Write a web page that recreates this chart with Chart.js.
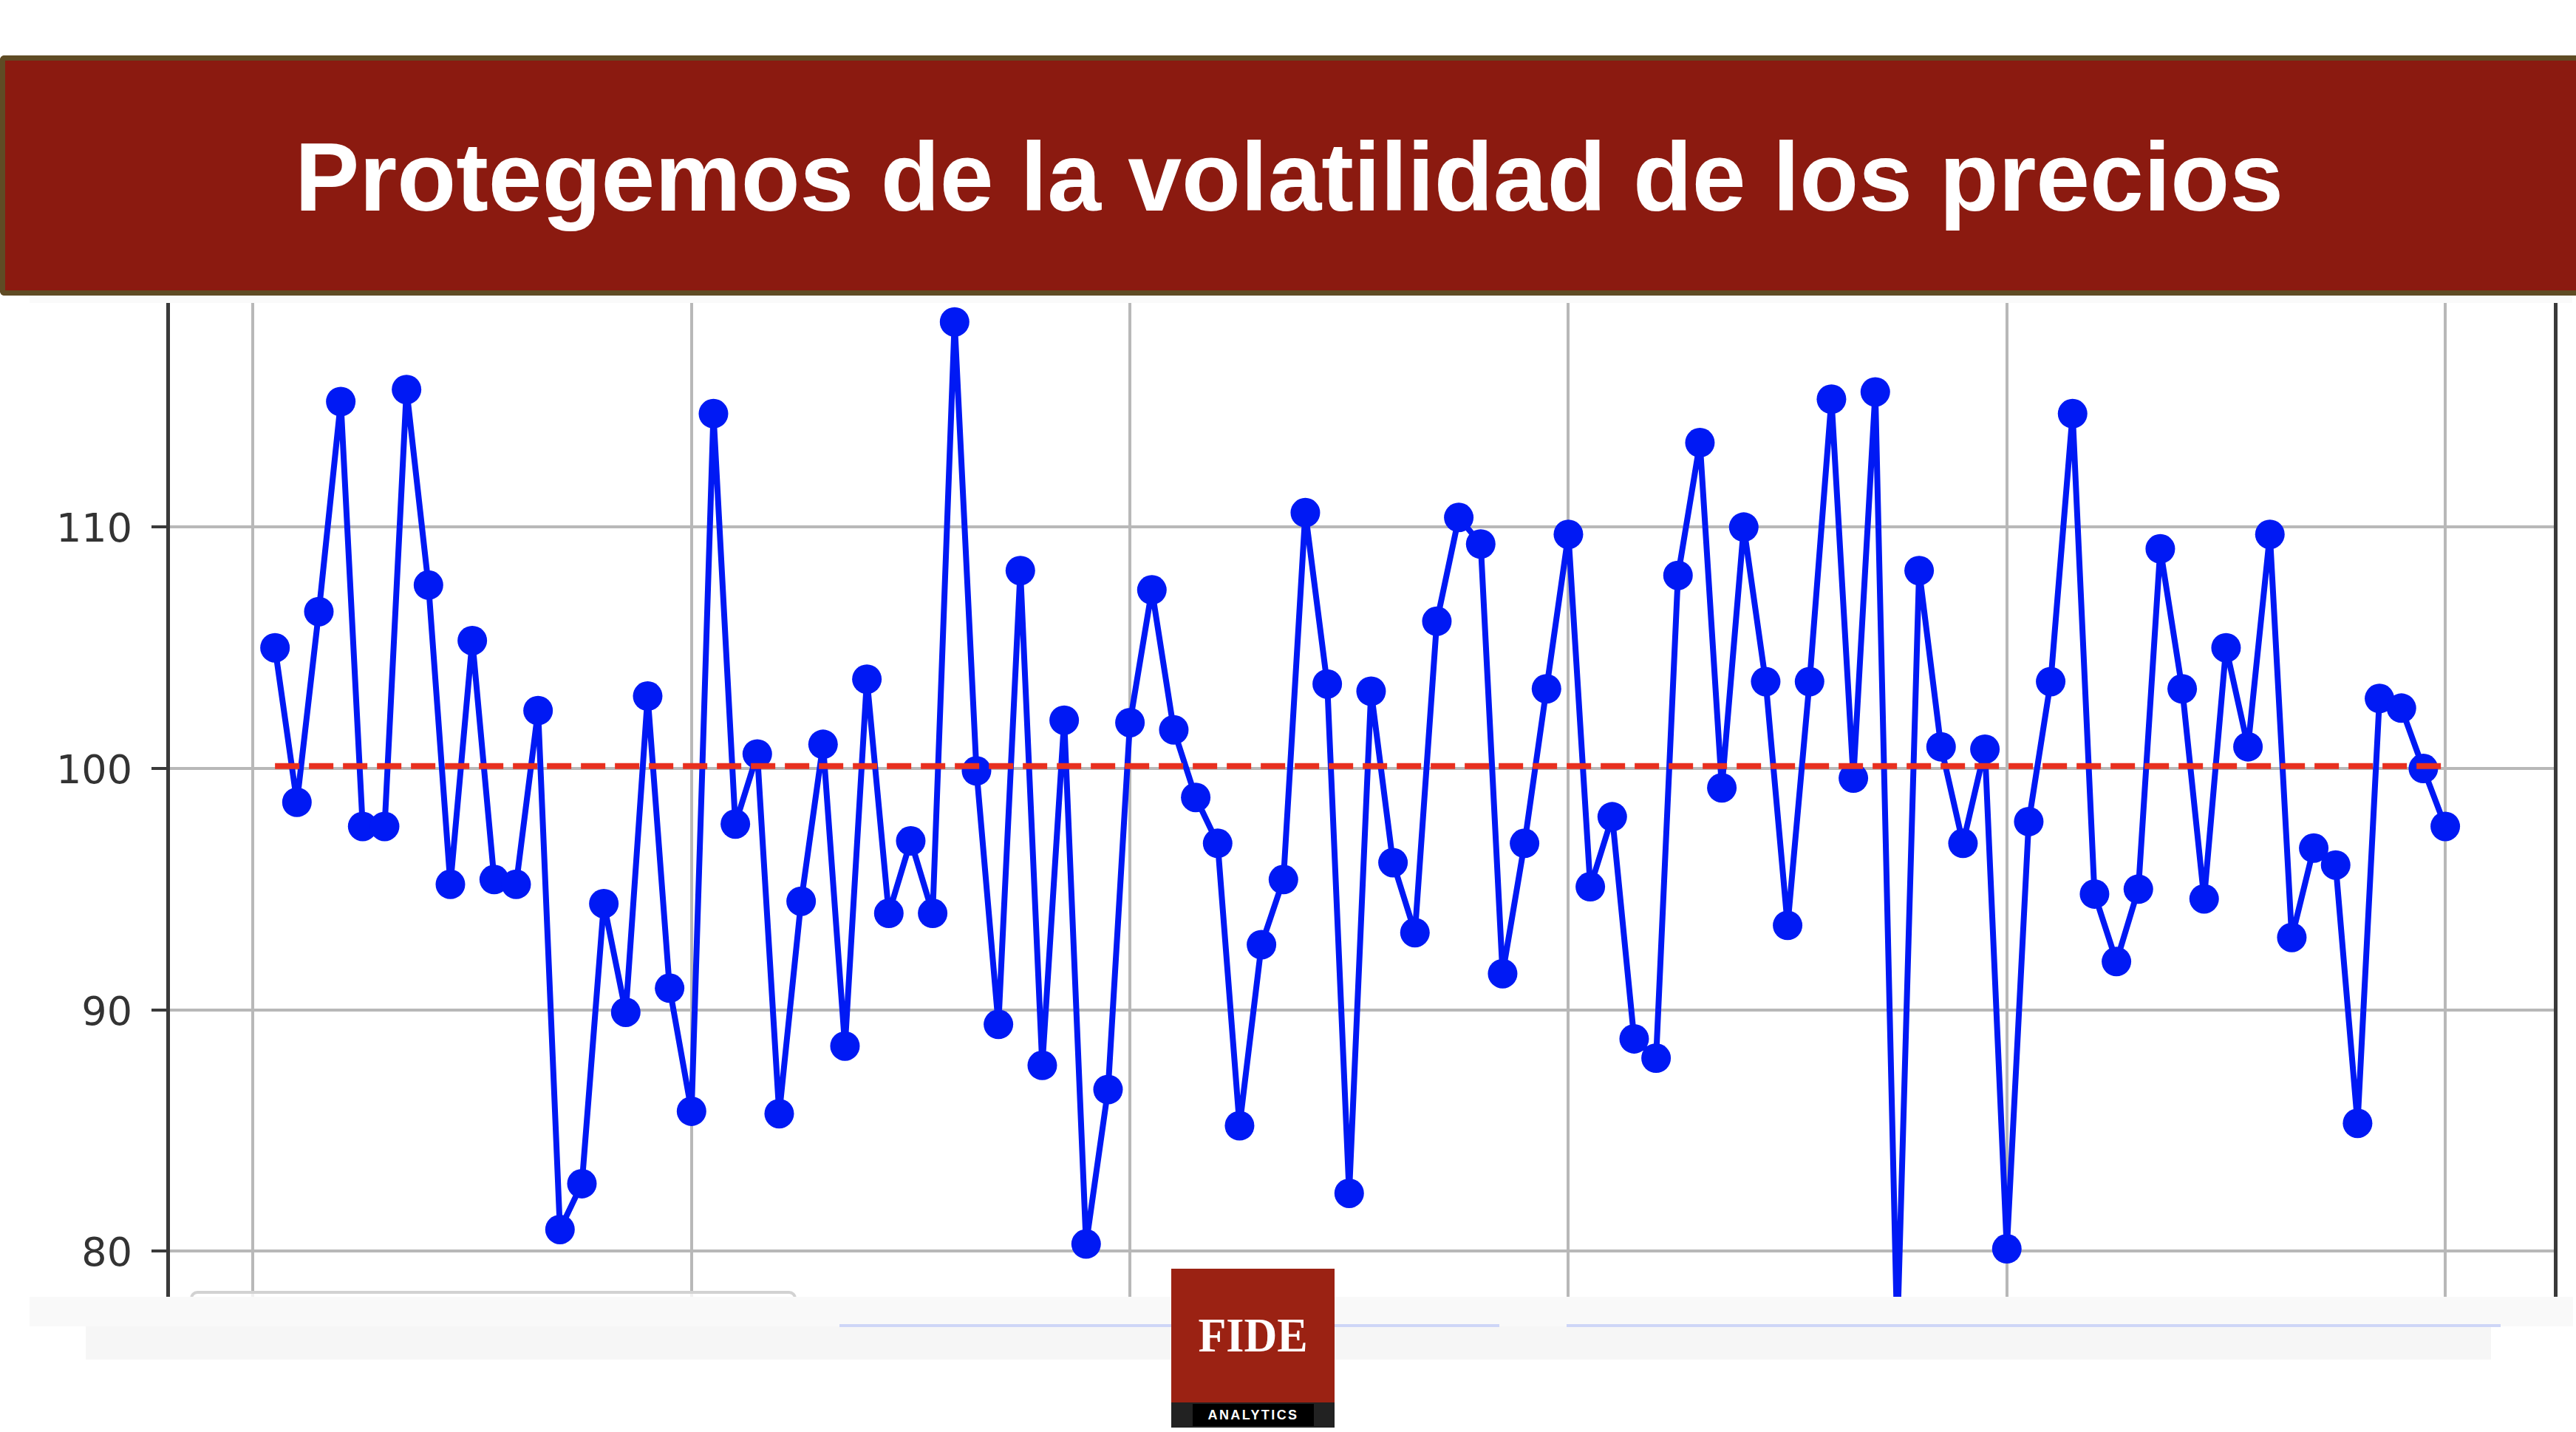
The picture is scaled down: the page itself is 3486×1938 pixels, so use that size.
<!DOCTYPE html>
<html>
<head>
<meta charset="utf-8">
<title>Protegemos de la volatilidad de los precios</title>
<script src="https://cdn.jsdelivr.net/npm/chart.js@4"></script>
<style>
	html, body { margin: 0; padding: 0; background: #fff; }
	#page { position: relative; width: 3486px; height: 1938px; overflow: hidden; background: #fff; }
	#chart { position: absolute; left: 0; top: 0; }
	.box { position: absolute; }
	#banner { left: 0; top: 75px; width: 3486px; height: 325px; box-sizing: border-box; background: #8b1a10; border: 7px solid #5f4b24; border-right: 0; border-radius: 6px 0 0 6px; }
	#title { position: absolute; left: 3px; right: 0; top: 165px; text-align: center; color: #fff; font: bold 130.9px/150px "Liberation Sans", Arial, sans-serif; white-space: nowrap; }
	#fade { left: 40px; top: 400px; width: 3441px; height: 10px; background: #fafafa; }
	#legend { left: 257px; top: 1747px; width: 813px; height: 40px; border: 4px solid #d2d2d2; border-radius: 10px; background: rgba(255,255,255,.8); }
	#band1 { left: 40px; top: 1755px; width: 3442px; height: 40px; background: #f9f9f9; }
	#band2 { left: 116px; top: 1795px; width: 3255px; height: 45px; background: #f6f6f6; }
	#rule1 { left: 1136px; top: 1792px; width: 893px; height: 4px; background: #ced6f7; }
	#rule2 { left: 2120px; top: 1792px; width: 1264px; height: 4px; background: #ced6f7; }
	#logo { left: 1585px; top: 1717px; width: 221px; height: 181px; background: #9b2213; }
	#logoFoot { left: 1585px; top: 1898px; width: 221px; height: 34px; background: #222; }
	#logoInner { left: 1614px; top: 1900px; width: 164px; height: 30px; background: #000; }
	#fide { left: 1585px; top: 1769px; width: 221px; text-align: center; color: #fff; font: bold 66px/76px "Liberation Serif", serif; transform: scaleX(.94); }
	#analytics { left: 1614px; top: 1900px; width: 164px; text-align: center; color: #fff; font: bold 18px/30px "Liberation Sans", sans-serif; letter-spacing: 2.4px; }
</style>
</head>
<body>
<div id="page">
	<canvas id="chart" width="3486" height="1938" style="width:3486px;height:1938px"></canvas>
	<div class="box" id="fade"></div>
	<div class="box" id="banner"></div>
	<div id="title">Protegemos de la volatilidad de los precios</div>
	<div class="box" id="legend"></div>
	<div class="box" id="band1"></div>
	<div class="box" id="band2"></div>
	<div class="box" id="rule1"></div>
	<div class="box" id="rule2"></div>
	<div class="box" id="logo"></div>
	<div class="box" id="logoFoot"></div>
	<div class="box" id="logoInner"></div>
	<div class="box" id="fide">FIDE</div>
	<div class="box" id="analytics">ANALYTICS</div>
</div>
<script>
const colors = {
	blue: '#0019f4',
	red: '#e8301f',
	grid: '#b8b8b8',
	spine: '#3a3a3a',
	text: '#333'
}

const weeks = [
	1, 2, 3, 4, 5, 6, 7, 8, 9, 10,
	11, 12, 13, 14, 15, 16, 17, 18, 19, 20,
	21, 22, 23, 24, 25, 26, 27, 28, 29, 30,
	31, 32, 33, 34, 35, 36, 37, 38, 39, 40,
	41, 42, 43, 44, 45, 46, 47, 48, 49, 50,
	51, 52, 53, 54, 55, 56, 57, 58, 59, 60,
	61, 62, 63, 64, 65, 66, 67, 68, 69, 70,
	71, 72, 73, 74, 75, 76, 77, 78, 79, 80,
	81, 82, 83, 84, 85, 86, 87, 88, 89, 90,
	91, 92, 93, 94, 95, 96, 97, 98, 99, 100
]

const prices = [
	105.0, 98.6, 106.5, 115.2, 97.6, 97.6, 115.7, 107.6, 95.2, 105.3,
	95.4, 95.2, 102.4, 80.9, 82.8, 94.4, 89.9, 103.0, 90.9, 85.8,
	114.7, 97.7, 100.6, 85.7, 94.5, 101.0, 88.5, 103.7, 94.0, 97.0,
	94.0, 118.5, 99.9, 89.4, 108.2, 87.7, 102.0, 80.3, 86.7, 101.9,
	107.4, 101.6, 98.8, 96.9, 85.2, 92.7, 95.4, 110.6, 103.5, 82.4,
	103.2, 96.1, 93.2, 106.1, 110.4, 109.3, 91.5, 96.9, 103.3, 109.7,
	95.1, 98.0, 88.8, 88.0, 108.0, 113.5, 99.2, 110.0, 103.6, 93.5,
	103.6, 115.3, 99.6, 115.6, 76.5, 108.2, 100.9, 96.9, 100.8, 80.1,
	97.8, 103.6, 114.7, 94.8, 92.0, 95.0, 109.1, 103.3, 94.6, 105.0,
	100.9, 109.7, 93.0, 96.7, 96.0, 85.3, 102.9, 102.5, 100.0, 97.6
]

const referenceWeeks = [1, 100]
const referencePrices = [100.1, 100.1]

const chart = new Chart("chart", {
	type: "line",
	data: {
		datasets: [
			{
				data: referenceWeeks.map((w, i) => ({ x: w, y: referencePrices[i] })),
				borderColor: colors.red,
				borderWidth: 8,
				borderDash: [33, 13],
				pointRadius: 0,
				order: 0
			},
			{
				data: weeks.map((w, i) => ({ x: w, y: prices[i] })),
				borderColor: colors.blue,
				backgroundColor: colors.blue,
				borderWidth: 8,
				borderJoinStyle: "round",
				pointRadius: 20,
				pointBorderWidth: 0,
				tension: 0,
				order: 1
			}
		]
	},
	options: {
		responsive: false,
		animation: false,
		devicePixelRatio: 1,
		layout: { padding: { left: 0, right: 28, top: 340, bottom: 146 } },
		plugins: { legend: { display: false }, tooltip: { enabled: false } },
		scales: {
			x: {
				type: "linear",
				min: -3.893,
				max: 105.02,
				afterFit: (scale) => { scale.height = 0 },
				border: { display: false },
				grid: { color: colors.grid, lineWidth: 4, drawTicks: false },
				ticks: { display: false, stepSize: 20, includeBounds: false }
			},
			y: {
				min: 76.98,
				max: 121.43,
				afterFit: (scale) => { scale.width = 227 },
				border: { color: colors.spine, width: 5 },
				grid: { color: colors.grid, lineWidth: 4, tickLength: 22, tickColor: colors.spine, tickWidth: 4 },
				ticks: {
					stepSize: 10,
					includeBounds: false,
					padding: 26,
					color: colors.text,
					font: { family: "DejaVu Sans", size: 54, lineHeight: "12px" },
					// empty first line pushes the label a few px under the tick, like the original
					callback: (value) => ["", String(value)]
				}
			},
			right: {
				position: "right",
				min: 76.98,
				max: 121.43,
				afterFit: (scale) => { scale.width = 0 },
				border: { color: colors.spine, width: 5 },
				grid: { display: false },
				ticks: { display: false }
			}
		}
	}
})
</script>
</body>
</html>
